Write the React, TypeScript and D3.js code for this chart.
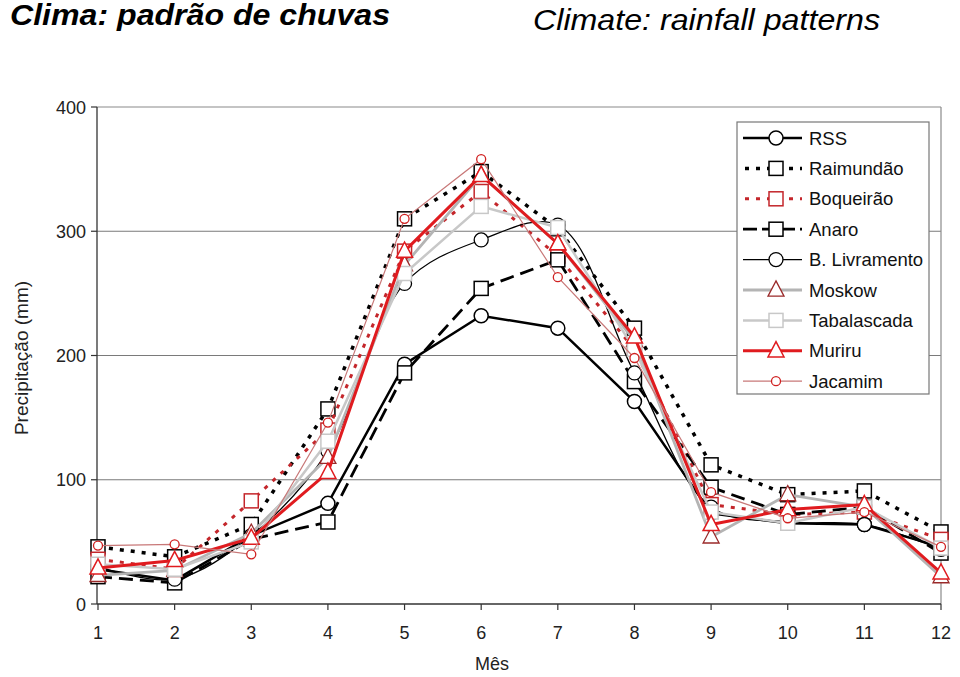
import React from "react";
import * as d3 from "d3";

const months = [1, 2, 3, 4, 5, 6, 7, 8, 9, 10, 11, 12];
const yTicks = [0, 100, 200, 300, 400];

const rss = [28, 19, 55, 81, 193, 232, 222, 163, 73, 65, 64, 46];
const raimundao = [46, 38, 64, 157, 310, 348, 302, 222, 112, 88, 91, 58];
const boqueirao = [36, 28, 83, 140, 284, 332, 280, 205, 80, 72, 74, 52];
const anaro = [22, 17, 52, 66, 186, 254, 277, 179, 94, 72, 78, 41];
const bLivramento = [30, 20, 55, 123, 258, 293, 305, 186, 78, 66, 64, 44];
const moskow = [23, 27, 57, 118, 273, 345, 290, 212, 54, 88, 78, 22];
const tabalascada = [32, 28, 50, 131, 266, 320, 303, 205, 74, 65, 78, 45];
const muriru = [29, 35, 53, 106, 284, 345, 290, 215, 64, 76, 80, 25];
const jacamim = [47, 48, 40, 146, 310, 358, 263, 198, 90, 69, 74, 46];

type Series = {
  name: string;
  values: number[];
  stroke: string;
  width: number;
  dash?: string;
  marker: "circle" | "square" | "triangle";
  mStroke: string;
  mSize: number;
  mWidth: number;
  smooth?: boolean;
};

const series: Series[] = [
  { name: "RSS", values: rss, stroke: "#000", width: 2.5, marker: "circle", mStroke: "#000", mSize: 7, mWidth: 1.5 },
  { name: "Raimundão", values: raimundao, stroke: "#000", width: 3.5, dash: "4 7", marker: "square", mStroke: "#000", mSize: 7, mWidth: 1.5 },
  { name: "Boqueirão", values: boqueirao, stroke: "#c4262b", width: 3, dash: "4 7", marker: "square", mStroke: "#c4262b", mSize: 7, mWidth: 1.5 },
  { name: "Anaro", values: anaro, stroke: "#000", width: 2.8, dash: "14 7", marker: "square", mStroke: "#000", mSize: 7, mWidth: 1.5 },
  { name: "B. Livramento", values: bLivramento, stroke: "#000", width: 1.3, marker: "circle", mStroke: "#000", mSize: 7, mWidth: 1.3, smooth: true },
  { name: "Moskow", values: moskow, stroke: "#b4b4b4", width: 2.8, marker: "triangle", mStroke: "#9a2a2a", mSize: 8, mWidth: 1.3 },
  { name: "Tabalascada", values: tabalascada, stroke: "#c8c8c8", width: 2.5, marker: "square", mStroke: "#c8c8c8", mSize: 7, mWidth: 1.5 },
  { name: "Muriru", values: muriru, stroke: "#e01b1f", width: 3, marker: "triangle", mStroke: "#e01b1f", mSize: 8, mWidth: 1.5 },
  { name: "Jacamim", values: jacamim, stroke: "#c87878", width: 1.2, marker: "circle", mStroke: "#d02020", mSize: 4.5, mWidth: 1.3 },
];

const W = 960;
const H = 677;
const left = 97;
const right = 941;
const top = 107;
const bottom = 604;

const x = d3.scaleLinear().domain([1, 12]).range([98, 941]);
const y = d3.scaleLinear().domain([0, 400]).range([bottom, top]);

function Marker({ s, cx, cy }: { s: Series; cx: number; cy: number }) {
  const r = s.mSize;
  if (s.marker === "circle") {
    return <circle cx={cx} cy={cy} r={r} fill="#fff" stroke={s.mStroke} strokeWidth={s.mWidth} />;
  }
  if (s.marker === "square") {
    return <rect x={cx - r} y={cy - r} width={2 * r} height={2 * r} fill="#fff" stroke={s.mStroke} strokeWidth={s.mWidth} />;
  }
  const h = r * 1.9;
  const p = `M${cx},${cy - h * 0.6} L${cx + r},${cy + h * 0.4} L${cx - r},${cy + h * 0.4} Z`;
  return <path d={p} fill="#fff" stroke={s.mStroke} strokeWidth={s.mWidth} />;
}

export default function App() {
  const font = "Arial, 'Liberation Sans', Helvetica, sans-serif";
  const legX = 737;
  const legY = 122;
  const legRow = 30.4;
  return (
    <svg width={W} height={H} style={{ position: "absolute", left: 0, top: 0, background: "#fff" }} fontFamily={font}>
      <rect x={0} y={0} width={W} height={H} fill="#fff" />
      <text x={10} y={25} fontSize={29} fontWeight="bold" fontStyle="italic" textLength={380} lengthAdjust="spacingAndGlyphs">
        Clima: padrão de chuvas
      </text>
      <text x={533} y={30} fontSize={30} fontStyle="italic" textLength={347} lengthAdjust="spacingAndGlyphs">
        Climate: rainfall patterns
      </text>

      {/* grid */}
      {yTicks.filter((t) => t > 0 && t < 400).map((t) => (
        <line key={t} x1={left} x2={right} y1={y(t)} y2={y(t)} stroke="#7a7a7a" strokeWidth={1.2} />
      ))}
      {/* plot border top/right */}
      <line x1={left} x2={right} y1={top} y2={top} stroke="#8a8a8a" strokeWidth={1.2} />
      <line x1={right} x2={right} y1={top} y2={bottom} stroke="#8a8a8a" strokeWidth={1.2} />
      {/* axes */}
      <line x1={left} x2={left} y1={top} y2={bottom} stroke="#333" strokeWidth={1.3} />
      <line x1={left} x2={right} y1={bottom} y2={bottom} stroke="#333" strokeWidth={1.3} />
      {yTicks.map((t) => (
        <g key={t}>
          <line x1={left - 6} x2={left} y1={y(t)} y2={y(t)} stroke="#333" strokeWidth={1.2} />
          <text x={86} y={y(t) + 6.5} fontSize={18} textAnchor="end" fill="#222">
            {t}
          </text>
        </g>
      ))}
      {months.map((m) => (
        <g key={m}>
          <line x1={x(m)} x2={x(m)} y1={bottom} y2={bottom + 6} stroke="#333" strokeWidth={1.2} />
          <text x={x(m)} y={639} fontSize={18} textAnchor="middle" fill="#222">
            {m}
          </text>
        </g>
      ))}
      <text x={492} y={670} fontSize={18} textAnchor="middle" fill="#222">
        Mês
      </text>
      <text transform={`translate(28,${358}) rotate(-90)`} fontSize={19} textAnchor="middle" fill="#222">
        Precipitação (mm)
      </text>

      {/* series */}
      {series.map((s) => {
        const gen = d3
          .line<number>()
          .x((_, i) => x(months[i]))
          .y((v) => y(v))
          .curve(s.smooth ? d3.curveCatmullRom.alpha(0.5) : d3.curveLinear);
        return (
          <g key={s.name}>
            <path d={gen(s.values) || ""} fill="none" stroke={s.stroke} strokeWidth={s.width} strokeDasharray={s.dash} />
            {s.values.map((v, i) => (
              <Marker key={i} s={s} cx={x(months[i])} cy={y(v)} />
            ))}
          </g>
        );
      })}

      {/* legend */}
      <rect x={legX} y={legY} width={192} height={272} fill="#fff" stroke="#777" strokeWidth={1.2} />
      {series.map((s, i) => {
        const cy = legY + 16 + i * legRow;
        return (
          <g key={s.name}>
            <line x1={743} x2={802} y1={cy} y2={cy} stroke={s.stroke} strokeWidth={s.width} strokeDasharray={s.dash ? (s.dash === "14 7" ? "14 5" : "4 7") : undefined} strokeDashoffset={s.dash === "4 7" ? -2 : 0} />
            <Marker s={s} cx={776} cy={cy} />
            <text x={809} y={cy + 6.5} fontSize={18.5} fill="#111">
              {s.name}
            </text>
          </g>
        );
      })}
    </svg>
  );
}
